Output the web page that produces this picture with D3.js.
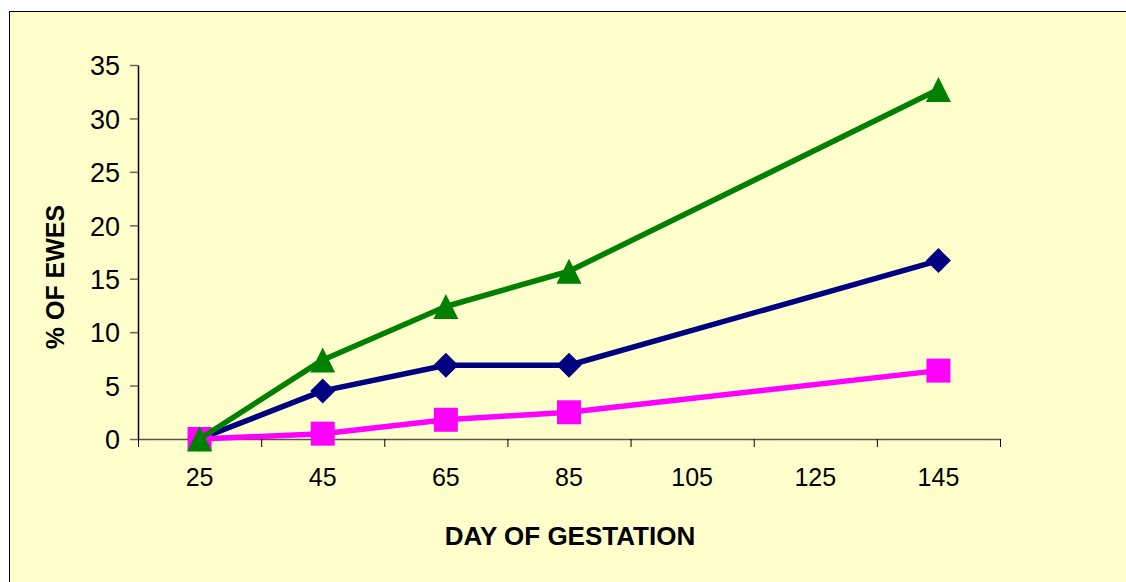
<!DOCTYPE html>
<html>
<head>
<meta charset="utf-8">
<script src="https://cdn.jsdelivr.net/npm/d3@7"></script>
<style>
  html, body { margin: 0; padding: 0; background: #ffffff; }
  svg { display: block; }
  text { font-family: "Liberation Sans", Arial, sans-serif; fill: #000; }
</style>
</head>
<body>
<svg id="chart" width="1126" height="582"></svg>
<script>
// Day of gestation categories (105 and 125 carry no observations)
const days = ["25", "45", "65", "85", "105", "125", "145"];
const sampledDays = ["25", "45", "65", "85", "145"];

// Percentage of ewes per series
const seriesBlue = [0, 4.5, 6.9, 6.9, 16.7];
const seriesMagenta = [0, 0.5, 1.8, 2.5, 6.4];
const seriesGreen = [0, 7.4, 12.4, 15.7, 32.7];

const yTicks = [0, 5, 10, 15, 20, 25, 30, 35];

const svg = d3.select("#chart");

// Chart frame
svg.append("rect")
  .attr("x", 9.5).attr("y", 11.5)
  .attr("width", 1130).attr("height", 590)
  .attr("fill", "#FFFFCC")
  .attr("stroke", "#000").attr("stroke-width", 1);

const plotLeft = 138, plotRight = 1000, plotTop = 65, plotBottom = 439;

const x = d3.scaleBand().domain(days).range([plotLeft, plotRight]).padding(0);
const y = d3.scaleLinear().domain([0, 35]).range([plotBottom, plotTop]);
const edges = d3.scaleLinear().domain([0, days.length]).range([plotLeft, plotRight]);

// X axis: line + tick marks between categories
const xAxisG = svg.append("g").attr("transform", `translate(0,${plotBottom})`)
  .call(d3.axisBottom(edges).tickValues(d3.range(days.length + 1)).tickSize(8).tickSizeOuter(0).tickFormat(""));
xAxisG.select(".domain").attr("stroke", "#555").attr("stroke-width", 1.5);
xAxisG.selectAll(".tick line").attr("stroke", "#000").attr("stroke-width", 1);

// X labels at category centres
const xLabels = svg.append("g").attr("transform", `translate(0,${plotBottom})`)
  .call(d3.axisBottom(x).tickSize(0).tickPadding(0));
xLabels.select(".domain").remove();
xLabels.selectAll(".tick text")
  .attr("y", 47).attr("dy", null)
  .style("font-size", "25px");

// Y axis
const yAxisG = svg.append("g").attr("transform", `translate(${plotLeft},0)`)
  .call(d3.axisLeft(y).tickValues(yTicks).tickSize(8).tickSizeOuter(0).tickPadding(10));
yAxisG.select(".domain").attr("stroke", "#000").attr("stroke-width", 1.5);
yAxisG.selectAll(".tick line").attr("stroke", "#666").attr("stroke-width", 1.5);
yAxisG.selectAll(".tick text").style("font-size", "27px").attr("dy", "0.36em");

// Axis titles
svg.append("text")
  .attr("x", 570).attr("y", 545)
  .attr("text-anchor", "middle")
  .style("font-size", "26px").style("font-weight", "bold")
  .text("DAY OF GESTATION");

svg.append("text")
  .attr("transform", "translate(64,277) rotate(-90)")
  .attr("text-anchor", "middle")
  .style("font-size", "25px").style("font-weight", "bold")
  .text("% OF EWES");

const cx = d => x(d) + x.bandwidth() / 2;
const line = d3.line().x(d => cx(d.day)).y(d => y(d.v));

function drawSeries(values, color, marker) {
  const pts = sampledDays.map((day, i) => ({ day, v: values[i] }));
  svg.append("path")
    .datum(pts)
    .attr("d", line)
    .attr("fill", "none")
    .attr("stroke", color)
    .attr("stroke-width", 5.5)
    .attr("stroke-linejoin", "round");
  const g = svg.append("g");
  pts.forEach(p => {
    const px = cx(p.day), py = y(p.v);
    if (marker === "diamond") {
      g.append("path").attr("d", `M${px},${py - 12.5}L${px + 12.5},${py}L${px},${py + 12.5}L${px - 12.5},${py}Z`).attr("fill", color);
    } else if (marker === "square") {
      g.append("rect").attr("x", px - 12).attr("y", py - 12).attr("width", 24).attr("height", 24).attr("fill", color);
    } else {
      g.append("path").attr("d", `M${px},${py - 12.5}L${px + 12.5},${py + 12.5}L${px - 12.5},${py + 12.5}Z`).attr("fill", color);
    }
  });
}

drawSeries(seriesBlue, "#000080", "diamond");
drawSeries(seriesMagenta, "#FF00FF", "square");
drawSeries(seriesGreen, "#008000", "triangle");
</script>
</body>
</html>
